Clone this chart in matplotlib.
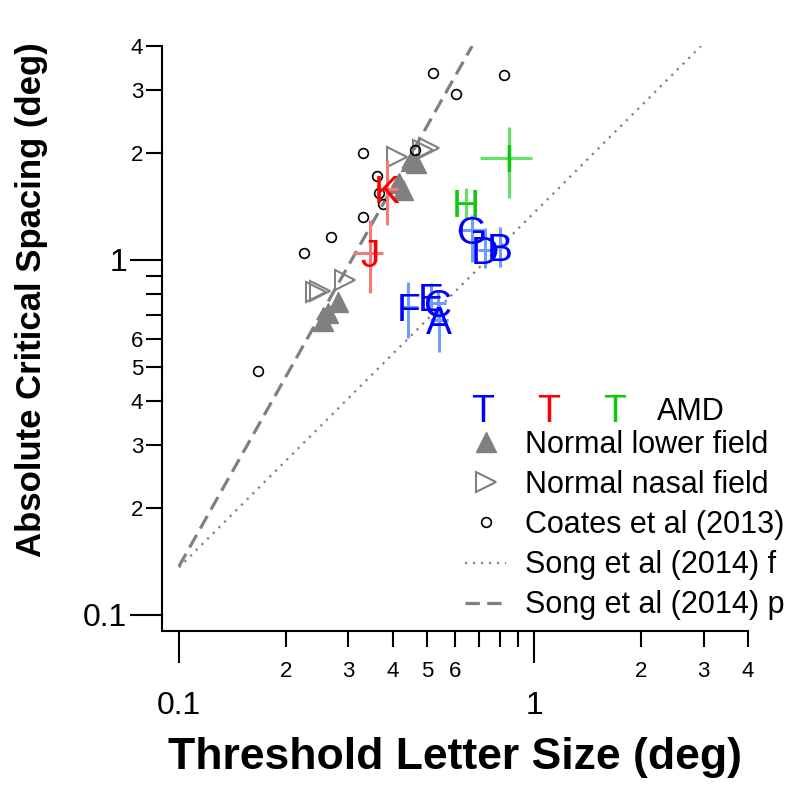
import matplotlib
matplotlib.use('Agg')
import matplotlib.pyplot as plt
from matplotlib.ticker import FixedLocator, FixedFormatter

plt.rcParams['font.family'] = ['Liberation Sans', 'DejaVu Sans']

# ---------------- data ----------------
# Coates et al (2013)
coates_x = [0.167, 0.225, 0.268, 0.330, 0.330, 0.361, 0.366, 0.376, 0.462, 0.519, 0.603, 0.823]
coates_y = [0.487, 1.046, 1.16, 2.00, 1.32, 1.72, 1.54, 1.44, 2.04, 3.36, 2.93, 3.32]

# Normal lower field
lower_x = [0.255, 0.263, 0.281, 0.417, 0.428, 0.450, 0.465]
lower_y = [0.673, 0.709, 0.762, 1.648, 1.575, 1.90, 1.876]

# Normal nasal field
nasal_x = [0.243, 0.249, 0.294, 0.411, 0.487, 0.506]
nasal_y = [0.813, 0.818, 0.879, 1.95, 2.04, 2.07]

# AMD observers
amd_letters = ['A', 'B', 'C', 'D', 'E', 'F', 'G', 'H', 'I', 'J', 'K']
amd_group = ['blue', 'blue', 'blue', 'blue', 'blue', 'blue', 'blue',
             'green', 'green', 'red', 'red']
amd_x = [0.540, 0.802, 0.536, 0.728, 0.513, 0.442, 0.669, 0.643, 0.850, 0.345, 0.385]
amd_y = [0.678, 1.088, 0.757, 1.067, 0.787, 0.737, 1.215, 1.447, 1.938, 1.046, 1.585]
amd_xlo = [0.509, 0.767, 0.516, 0.695, 0.493, 0.419, 0.611, 0.611, 0.704, 0.309, 0.368]
amd_xhi = [0.573, 0.839, 0.565, 0.777, 0.544, 0.471, 0.718, 0.678, 0.987, 0.376, 0.414]
amd_ylo = [0.551, 0.956, 0.687, 0.950, 0.714, 0.603, 0.987, 1.313, 1.495, 0.807, 1.255]
amd_yhi = [0.747, 1.239, 0.823, 1.231, 0.862, 0.867, 1.339, 1.595, 2.370, 1.296, 1.913]

# Song et al (2014) fits
song_f_x = [0.1, 2.95]
song_f_y = [0.136, 4.0]
song_p_x = [0.1, 0.669]
song_p_y = [0.137, 4.0]

# ticks
major_ticks = [0.1, 1]
major_labels = ['0.1', '1']
minor_ticks = [0.2, 0.3, 0.4, 0.5, 0.6, 0.7, 0.8, 0.9, 2, 3, 4]
minor_labels = ['2', '3', '4', '5', '6', '', '', '', '2', '3', '4']

letter_colors = {'blue': '#0000ff', 'red': '#ff0000', 'green': '#10c810'}
err_colors = {'blue': '#6e9ef5', 'red': '#f27a7a', 'green': '#66e066'}

# ---------------- figure ----------------
W, H = 800, 790
fig = plt.figure(figsize=(W/100, H/100), dpi=100)
ax_left, ax_right, ax_top, ax_bottom = 162, 748, 46, 631
ax = fig.add_axes([ax_left/W, 1-ax_bottom/H, (ax_right-ax_left)/W, (ax_bottom-ax_top)/H])
ax.set_xscale('log')
ax.set_yscale('log')
ax.set_xlim(0.0896, 4)
ax.set_ylim(0.0901, 4)

gray = '#808080'
ax.plot(song_f_x, song_f_y, color=gray, lw=1.6, ls=(0, (1, 2.6)),
        label='Song et al (2014) f', zorder=2)
ax.plot(song_p_x, song_p_y, color=gray, lw=2.3, ls=(0, (4.5, 2.3)),
        label='Song et al (2014) p', zorder=2)

ax.plot(lower_x, lower_y, ls='none', marker='^', color=gray,
        markersize=15, label='Normal lower field', zorder=3)
ax.plot(nasal_x, nasal_y, ls='none', marker='>', mfc='none',
        mec=gray, mew=1.5, markersize=15, label='Normal nasal field', zorder=3)
ax.plot(coates_x, coates_y, ls='none', marker='o', mfc='none',
        mec='black', mew=1.2, markersize=7, label='Coates et al (2013)', zorder=4)

for i, L in enumerate(amd_letters):
    g = amd_group[i]
    x, y = amd_x[i], amd_y[i]
    ax.errorbar([x], [y], xerr=[[x - amd_xlo[i]], [amd_xhi[i] - x]],
                yerr=[[y - amd_ylo[i]], [amd_yhi[i] - y]], fmt='none',
                ecolor=err_colors[g], elinewidth=2.2, capsize=0, zorder=5)
for i, L in enumerate(amd_letters):
    ax.text(amd_x[i], amd_y[i], L, color=letter_colors[amd_group[i]],
            fontsize=28, ha='center', va='center_baseline', zorder=6)

# axes styling
for s in ['top', 'right']:
    ax.spines[s].set_visible(False)
for s in ['left', 'bottom']:
    ax.spines[s].set_linewidth(1.5)

for axis in (ax.xaxis, ax.yaxis):
    axis.set_major_locator(FixedLocator(major_ticks))
    axis.set_major_formatter(FixedFormatter(major_labels))
    axis.set_minor_locator(FixedLocator(minor_ticks))
    axis.set_minor_formatter(FixedFormatter(minor_labels))

ax.tick_params(which='major', length=23, width=1.5, labelsize=23, direction='out')
ax.tick_params(which='minor', length=11.5, width=1.5, labelsize=16, direction='out')
ax.tick_params(axis='x', which='major', pad=20)
ax.tick_params(axis='x', which='minor', pad=10)
ax.tick_params(axis='y', which='major', pad=2)
ax.tick_params(axis='y', which='minor', pad=2)

ax.set_xlabel('Threshold Letter Size (deg)', fontsize=32, fontweight='bold')
ax.xaxis.set_label_coords((455 - ax_left) / (ax_right - ax_left),
                          (ax_bottom - 757) / (ax_bottom - ax_top))
ax.xaxis.label.set_verticalalignment('center')
ax.set_ylabel('Absolute Critical Spacing (deg)', fontsize=25, fontweight='bold')
ax.yaxis.set_label_coords((32 - ax_left) / (ax_right - ax_left),
                          (ax_bottom - 300) / (ax_bottom - ax_top))
ax.yaxis.label.set_verticalalignment('center')

# legend: first row (AMD letters)
row1_y = 1 - 408/H
fig.text(483/W, row1_y, 'T', color=letter_colors['blue'], fontsize=27,
         ha='center', va='center_baseline')
fig.text(549/W, row1_y, 'T', color=letter_colors['red'], fontsize=27,
         ha='center', va='center_baseline')
fig.text(615/W, row1_y, 'T', color=letter_colors['green'], fontsize=27,
         ha='center', va='center_baseline')
fig.text(657/W, row1_y, 'AMD', color='black', fontsize=22,
         ha='left', va='center_baseline')

handles, labels = ax.get_legend_handles_labels()
order = ['Normal lower field', 'Normal nasal field', 'Coates et al (2013)',
         'Song et al (2014) f', 'Song et al (2014) p']
hmap = dict(zip(labels, handles))
fig.legend([hmap[k] for k in order], order, loc='upper left',
           bbox_to_anchor=(465/W, 1-430/H), frameon=False, fontsize=22,
           handlelength=1.35, handletextpad=0.6, labelspacing=0.33,
           borderpad=0, borderaxespad=0, numpoints=1)

fig.savefig('out.png', dpi=100)
